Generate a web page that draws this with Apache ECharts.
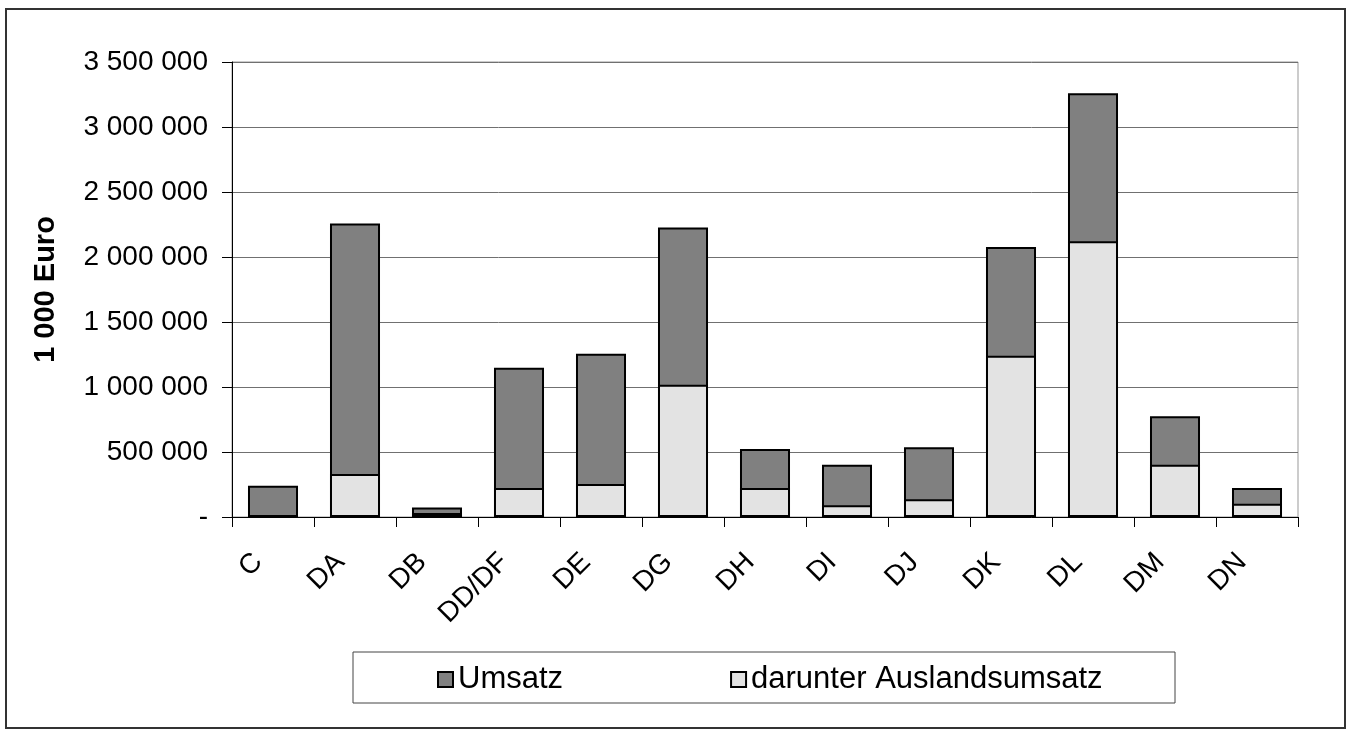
<!DOCTYPE html>
<html>
<head>
<meta charset="utf-8">
<script src="https://cdn.jsdelivr.net/npm/echarts@6/dist/echarts.min.js"></script>
<style>
    html, body { margin: 0; padding: 0; background: #fff; }
    #chart { width: 1348px; height: 736px; }
</style>
</head>
<body>
<div id="chart"></div>
<script>
var categories = ['C', 'DA', 'DB', 'DD/DF', 'DE', 'DG', 'DH', 'DI', 'DJ', 'DK', 'DL', 'DM', 'DN'];
var umsatz = [240000, 2258000, 74000, 1149000, 1256000, 2226000, 524000, 401000, 537000, 2077000, 3259000, 775000, 223000];
var auslandsumsatz = [null, 331000, 31000, 223000, 253000, 1018000, 223000, 90000, 136000, 1241000, 2121000, 401000, 102000];
var seriesNames = ['Umsatz', 'darunter Auslandsumsatz'];
var yTicks = [0, 500000, 1000000, 1500000, 2000000, 2500000, 3000000, 3500000];

var font = 'Liberation Sans, Arial, sans-serif';

// thousands with spaces, zero shown as a dash
function fmt(v) {
    if (v === 0) return '-';
    return String(v).replace(/\B(?=(\d{3})+(?!\d))/g, ' ');
}

var chart = echarts.init(document.getElementById('chart'));
var option = {
    backgroundColor: '#fff',
    animation: false,
    textStyle: { fontFamily: font },
    graphic: [{
        type: 'rect',
        shape: { x: 6, y: 9, width: 1339, height: 719 },
        style: { fill: 'none', stroke: '#333', lineWidth: 2 }
    }, {
        type: 'rect',
        shape: { x: 353, y: 652, width: 822, height: 51 },
        style: { fill: 'none', stroke: '#444', lineWidth: 1 }
    }],
    legend: {
        left: 437,
        top: 664,
        padding: 0,
        itemGap: 167,
        itemWidth: 15,
        itemHeight: 15,
        icon: 'rect',
        textStyle: { fontSize: 31, color: '#000', fontFamily: font },
        data: seriesNames
    },
    grid: {
        left: 232,
        right: 50,
        top: 62,
        bottom: 219,
        show: true,
        borderColor: '#999',
        borderWidth: 1
    },
    xAxis: {
        type: 'category',
        data: categories,
        axisLine: { lineStyle: { color: '#000', width: 1 } },
        axisTick: { show: true, length: 10, lineStyle: { color: '#000' } },
        axisLabel: {
            rotate: 45,
            margin: 26,
            fontSize: 28,
            color: '#000',
            fontFamily: font,
            padding: [0, 21, 0, 0]
        }
    },
    yAxis: {
        type: 'value',
        min: yTicks[0],
        max: yTicks[yTicks.length - 1],
        interval: 500000,
        name: '1 000 Euro',
        nameLocation: 'middle',
        nameGap: 172,
        nameRotate: 90,
        nameTextStyle: { fontSize: 29, fontWeight: 'bold', color: '#000', fontFamily: font },
        axisLine: { show: true, lineStyle: { color: '#000', width: 1 } },
        axisTick: { show: true, length: 10, lineStyle: { color: '#000' } },
        axisLabel: {
            margin: 24,
            fontSize: 28,
            color: '#000',
            fontFamily: font,
            formatter: fmt
        },
        splitLine: { show: true, lineStyle: { color: '#707070', width: 1 } }
    },
    series: [{
        name: seriesNames[0],
        type: 'bar',
        barWidth: '61%',
        barGap: '-100%',
        itemStyle: { color: '#808080', borderColor: '#000', borderWidth: 2 },
        data: umsatz
    }, {
        name: seriesNames[1],
        type: 'bar',
        barWidth: '61%',
        barGap: '-100%',
        itemStyle: { color: '#e3e3e3', borderColor: '#000', borderWidth: 2 },
        data: auslandsumsatz
    }]
};
chart.setOption(option);
</script>
</body>
</html>
